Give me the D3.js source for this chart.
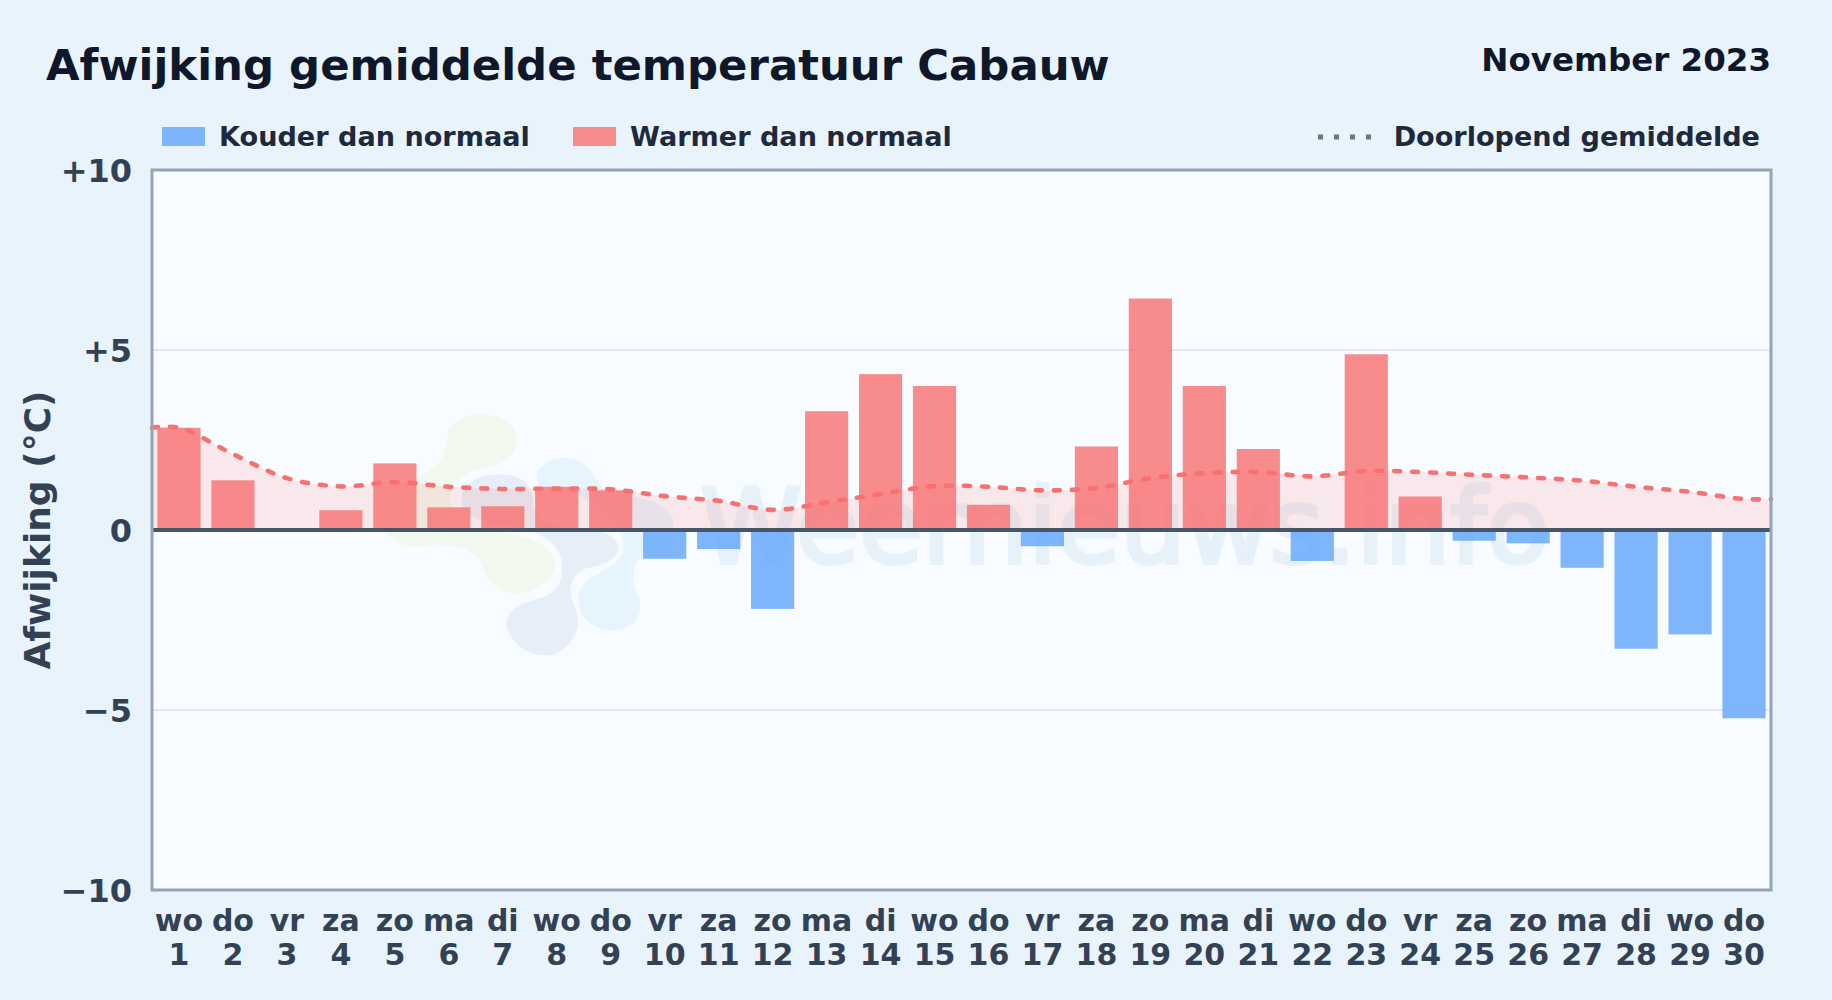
<!DOCTYPE html>
<html lang="nl">
<head>
<meta charset="utf-8">
<title>Afwijking gemiddelde temperatuur Cabauw</title>
<script src="https://cdn.jsdelivr.net/npm/d3@7"></script>
<style>
  html, body { margin: 0; padding: 0; background: #e8f3fc; }
  svg { display: block; font-family: "DejaVu Sans", sans-serif; font-weight: 700; }
</style>
</head>
<body>
<div id="chart"></div>
<script>
const width = 1832;
const height = 1000;

const days = d3.range(1, 31);
const weekdays = ["wo", "do", "vr", "za", "zo", "ma", "di", "wo", "do", "vr", "za", "zo", "ma", "di", "wo",
                  "do", "vr", "za", "zo", "ma", "di", "wo", "do", "vr", "za", "zo", "ma", "di", "wo", "do"];
const deviation = [2.84, 1.38, 0, 0.55, 1.85, 0.63, 0.66, 1.2, 1.1, -0.8, -0.53, -2.19, 3.3, 4.33, 4.0,
                   0.7, -0.45, 2.32, 6.43, 4.0, 2.25, -0.86, 4.88, 0.93, -0.3, -0.37, -1.05, -3.3, -2.9, -5.23];
const runningMean = [2.84, 2.11, 1.44, 1.21, 1.33, 1.2, 1.14, 1.15, 1.13, 0.94, 0.81, 0.56, 0.77, 1.0, 1.22,
                     1.2, 1.1, 1.17, 1.44, 1.58, 1.61, 1.49, 1.64, 1.61, 1.53, 1.46, 1.37, 1.2, 1.06, 0.86];
const yTicks = [10, 5, 0, -5, -10];

const plot = {left: 152, right: 1771, top: 170, bottom: 890};

const x = d3.scaleBand()
    .domain(days)
    .range([plot.left, plot.right])
    .paddingInner(0.2)
    .paddingOuter(0.1);

const y = d3.scaleLinear()
    .domain([-10, 10])
    .range([plot.bottom, plot.top]);

const svg = d3.select("#chart")
    .append("svg")
    .attr("width", width)
    .attr("height", height)
    .attr("viewBox", [0, 0, width, height]);

svg.append("rect")
    .attr("width", width)
    .attr("height", height)
    .attr("fill", "#e8f3fc");

svg.append("rect")
    .attr("x", plot.left)
    .attr("y", plot.top)
    .attr("width", plot.right - plot.left)
    .attr("height", plot.bottom - plot.top)
    .attr("fill", "#f8fbff");

// watermark sits under everything in the plot
const logo = svg.append("g")
    .attr("transform", "translate(370,400) scale(0.3333)");

logo.append("path")
    .attr("fill", "#f1f8ee")
    .attr("d", "M235 95C260 30 400 20 435 95C455 150 420 190 350 200C290 210 250 240 240 290C235 340 290 385 360 395C470 400 555 440 555 490C555 540 490 585 430 580C380 575 350 540 335 490C315 440 230 425 150 440C90 445 30 400 20 350C15 300 60 260 120 240C170 225 235 190 235 95Z");
logo.append("path")
    .attr("fill", "#e6f4fe")
    .attr("d", "M500 230C505 180 590 155 640 190C680 220 680 260 720 280C800 290 900 300 910 370C915 430 860 460 820 470C790 490 780 530 800 580C830 640 790 690 730 692C660 690 620 640 625 590C630 540 680 530 720 500C770 470 770 420 745 390C700 340 640 280 590 270C540 260 500 270 500 230Z");
logo.append("path")
    .attr("fill", "#e6eff8")
    .attr("d", "M275 290C280 240 350 215 420 225C470 235 490 270 490 320C500 360 540 385 610 385C700 385 745 410 745 445C745 480 700 495 650 505C610 515 590 560 610 610C640 670 620 720 570 755C510 785 430 750 410 680C405 630 450 610 510 595C570 580 590 520 570 465C550 420 500 385 400 375C320 365 270 340 275 290Z");

svg.append("text")
    .attr("x", 700)
    .attr("y", 563)
    .attr("fill", "#e7f1fa")
    .attr("stroke", "#e7f1fa")
    .attr("stroke-width", 4)
    .style("font-size", "103px")
    .style("font-weight", 400)
    .text("Weernieuws.info");

// gridlines
svg.append("g")
    .selectAll("line")
    .data(yTicks.filter(d => Math.abs(d) === 5))
    .join("line")
    .attr("x1", plot.left)
    .attr("x2", plot.right)
    .attr("y1", d => y(d))
    .attr("y2", d => y(d))
    .attr("stroke", "#e2e8f0")
    .attr("stroke-width", 2);

// running mean reaches the plot edges, so the first and last values are repeated there
const linePoints = [
    [plot.left, runningMean[0]],
    ...days.map((d, i) => [x(d) + x.bandwidth() / 2, runningMean[i]]),
    [plot.right, runningMean[runningMean.length - 1]]
];

svg.append("path")
    .datum(linePoints)
    .attr("fill", "#f87171")
    .attr("fill-opacity", 0.14)
    .attr("d", d3.area()
        .x(d => d[0])
        .y0(y(0))
        .y1(d => y(d[1]))
        .curve(d3.curveCatmullRom));

svg.append("g")
    .selectAll("rect")
    .data(days)
    .join("rect")
    .attr("x", d => x(d))
    .attr("width", x.bandwidth())
    .attr("y", (d, i) => y(Math.max(0, deviation[i])))
    .attr("height", (d, i) => Math.abs(y(deviation[i]) - y(0)))
    .attr("fill", (d, i) => deviation[i] < 0 ? "#60a5fa" : "#f87171")
    .attr("fill-opacity", 0.8);

svg.append("path")
    .datum(linePoints)
    .attr("fill", "none")
    .attr("stroke", "#f87171")
    .attr("stroke-width", 4.6)
    .attr("stroke-linecap", "round")
    .attr("stroke-dasharray", "6 12")
    .attr("d", d3.line()
        .x(d => d[0])
        .y(d => y(d[1]))
        .curve(d3.curveCatmullRom));

svg.append("line")
    .attr("x1", plot.left)
    .attr("x2", plot.right)
    .attr("y1", y(0))
    .attr("y2", y(0))
    .attr("stroke", "#475569")
    .attr("stroke-width", 4);

svg.append("rect")
    .attr("x", plot.left)
    .attr("y", plot.top)
    .attr("width", plot.right - plot.left)
    .attr("height", plot.bottom - plot.top)
    .attr("fill", "none")
    .attr("stroke", "#94a3b8")
    .attr("stroke-width", 3);

// y axis
const yAxis = svg.append("g")
    .attr("transform", `translate(${plot.left},0)`)
    .call(d3.axisLeft(y)
        .tickValues(yTicks)
        .tickSize(0)
        .tickPadding(20)
        .tickFormat(d => d > 0 ? `+${d}` : d < 0 ? `\u2212${-d}` : "0"));
yAxis.attr("font-family", null).attr("font-size", null);
yAxis.select(".domain").remove();
yAxis.selectAll("text")
    .attr("fill", "#334155")
    .attr("dy", "0.36em")
    .style("font-size", "32px");

svg.append("text")
    .attr("transform", `translate(50,${y(0)}) rotate(-90)`)
    .attr("text-anchor", "middle")
    .attr("fill", "#334155")
    .style("font-size", "36px")
    .text("Afwijking (°C)");

// x axis with weekday on top of day number
const xLabels = svg.append("g")
    .selectAll("text")
    .data(days)
    .join("text")
    .attr("text-anchor", "middle")
    .attr("fill", "#334155")
    .style("font-size", "30px");
xLabels.append("tspan")
    .attr("x", d => x(d) + x.bandwidth() / 2)
    .attr("y", 931)
    .text((d, i) => weekdays[i]);
xLabels.append("tspan")
    .attr("x", d => x(d) + x.bandwidth() / 2)
    .attr("y", 965)
    .text(d => d);

svg.append("text")
    .attr("x", 46)
    .attr("y", 79.5)
    .attr("fill", "#0f172a")
    .style("font-size", "43.4px")
    .text("Afwijking gemiddelde temperatuur Cabauw");

svg.append("text")
    .attr("x", 1771)
    .attr("y", 71)
    .attr("text-anchor", "end")
    .attr("fill", "#0f172a")
    .style("font-size", "32.5px")
    .text("November 2023");

// legend
const legendSwatches = [
    {x: 162, tx: 219, color: "#60a5fa", label: "Kouder dan normaal"},
    {x: 573, tx: 630, color: "#f87171", label: "Warmer dan normaal"}
];
const legend = svg.append("g");
legend.selectAll("rect")
    .data(legendSwatches)
    .join("rect")
    .attr("x", d => d.x)
    .attr("y", 127)
    .attr("width", 43)
    .attr("height", 19)
    .attr("fill", d => d.color)
    .attr("fill-opacity", 0.8);
legend.selectAll("text")
    .data(legendSwatches)
    .join("text")
    .attr("x", d => d.tx)
    .attr("y", 146)
    .attr("fill", "#1e293b")
    .style("font-size", "27.1px")
    .text(d => d.label);
legend.append("line")
    .attr("x1", 1318)
    .attr("x2", 1373)
    .attr("y1", 137)
    .attr("y2", 137)
    .attr("stroke", "#64748b")
    .attr("stroke-width", 5)
    .attr("stroke-dasharray", "5 11");
legend.append("text")
    .attr("x", 1760)
    .attr("y", 146)
    .attr("text-anchor", "end")
    .attr("fill", "#1e293b")
    .style("font-size", "27.1px")
    .text("Doorlopend gemiddelde");
</script>
</body>
</html>
